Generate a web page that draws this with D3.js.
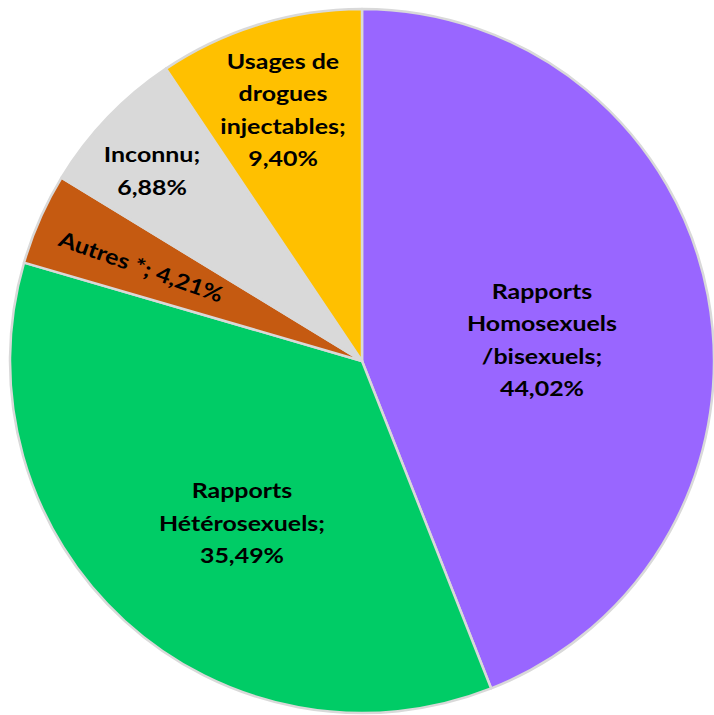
<!DOCTYPE html>
<html><head><meta charset="utf-8">
<script src="https://cdn.jsdelivr.net/npm/d3@7"></script>
<style>html,body{margin:0;padding:0;background:#fff;overflow:hidden}</style>
</head><body>
<svg id="chart" width="714" height="715"></svg>
<script>
const categories = ["Rapports Homosexuels /bisexuels", "Rapports Hétérosexuels", "Autres *", "Inconnu", "Usages de drogues injectables"];
const values = [44.02, 35.49, 4.21, 6.88, 9.40];
const valueLabels = ["44,02%", "35,49%", "4,21%", "6,88%", "9,40%"];
const labelLines = [
  ["Rapports", "Homosexuels", "/bisexuels;", "44,02%"],
  ["Rapports", "Hétérosexuels;", "35,49%"],
  ["Autres *; 4,21%"],
  ["Inconnu;", "6,88%"],
  ["Usages de", "drogues", "injectables;", "9,40%"]
];
const colors = ["#9966FF", "#00CC66", "#C55A11", "#D9D9D9", "#FFC000"];

// label layout (position of label centre, rotation)
const labelLayout = [
  {x: 542, y: 340, rot: 0},
  {x: 242, y: 523, rot: 0},
  {x: 141, y: 267, rot: 19.5},
  {x: 152, y: 171, rot: 0},
  {x: 283, y: 110, rot: 0}
];

const cx = 362, cy = 361, R = 352;
const svg = d3.select("#chart");
const g = svg.append("g").attr("transform", `translate(${cx},${cy})`);

const data = categories.map((c, i) => ({cat: c, value: values[i], i}));
const pie = d3.pie().sort(null).value(d => d.value).startAngle(0).endAngle(2 * Math.PI);
const arc = d3.arc().innerRadius(0).outerRadius(R);

g.selectAll("path.slice").data(pie(data)).join("path")
  .attr("class", "slice")
  .attr("d", arc)
  .attr("fill", d => colors[d.data.i])
  .attr("stroke", "#D9D9D9")
  .attr("stroke-width", 2.5)
  .attr("stroke-linejoin", "round");

const lineH = 32.5;
const lbl = svg.append("g");
data.forEach((d, i) => {
  const L = labelLayout[i];
  const lines = labelLines[i];
  const t = lbl.append("text")
    .attr("transform", `translate(${L.x},${L.y}) rotate(${L.rot}) scale(1.16,1)`)
    .attr("text-anchor", "middle")
    .attr("font-family", "Lato, 'Open Sans', sans-serif")
    .attr("font-weight", "bold")
    .attr("font-size", 21.5)
    .attr("fill", "#000");
  const n = lines.length;
  lines.forEach((ln, k) => {
    t.append("tspan")
      .attr("x", 0)
      .attr("y", (k - (n - 1) / 2) * lineH)
      .attr("dy", "0.35em")
      .text(ln);
  });
});
</script>
</body></html>
